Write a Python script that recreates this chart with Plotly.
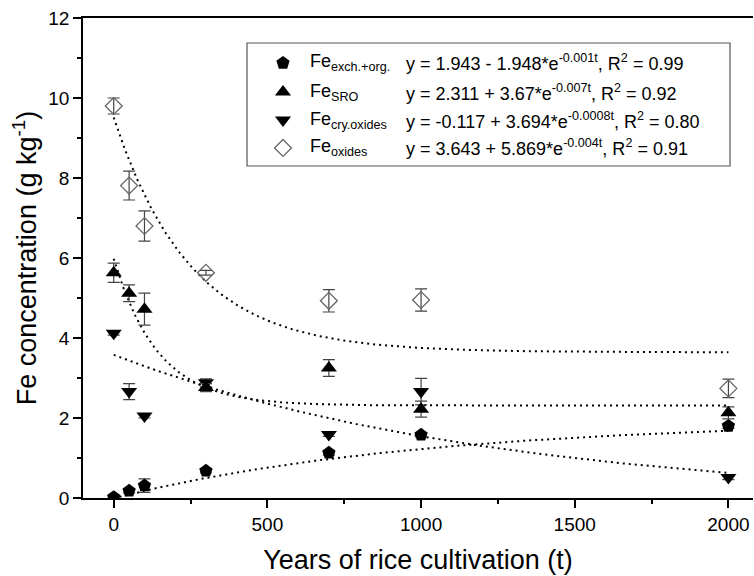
import plotly.graph_objects as go
import numpy as np

# ---- data ----
years = [0, 50, 100, 300, 700, 1000, 2000]

fe_exch = [0.02, 0.18, 0.31, 0.68, 1.13, 1.58, 1.80]
fe_exch_err = [0.03, 0.05, 0.17, 0.05, 0.06, 0.05, 0.06]

fe_sro = [5.63, 5.12, 4.72, 2.76, 3.25, 2.22, 2.13]
fe_sro_err = [0.24, 0.21, 0.40, 0.10, 0.21, 0.20, 0.15]

fe_cry = [4.12, 2.66, 2.05, 2.88, 1.59, 2.66, 0.51]
fe_cry_err = [0.05, 0.20, 0.05, 0.10, 0.05, 0.33, 0.05]

fe_oxides = [9.80, 7.81, 6.80, 5.63, 4.93, 4.95, 2.74]
fe_oxides_err = [0.20, 0.36, 0.38, 0.06, 0.28, 0.28, 0.23]

# fitted model parameters y = a + b*exp(-k t), as printed in the legend
fit_exch = (1.943, -1.948, 0.001)
fit_sro = (2.311, 3.67, 0.007)
fit_cry = (-0.117, 3.694, 0.0008)
fit_oxides = (3.643, 5.869, 0.004)

series_labels = ["Fe<sub>exch.+org.</sub>", "Fe<sub>SRO</sub>",
                 "Fe<sub>cry.oxides</sub>", "Fe<sub>oxides</sub>"]
equations = [
    "y = 1.943 - 1.948*e<sup>-0.001t</sup>, R<sup>2</sup> = 0.99",
    "y = 2.311 + 3.67*e<sup>-0.007t</sup>, R<sup>2</sup> = 0.92",
    "y = -0.117 + 3.694*e<sup>-0.0008t</sup>, R<sup>2</sup> = 0.80",
    "y = 3.643 + 5.869*e<sup>-0.004t</sup>, R<sup>2</sup> = 0.91",
]

FONT = "Liberation Sans, Arial, sans-serif"
fig = go.Figure()

t_fit = np.linspace(0, 2000, 401)
for a, b, k in [fit_exch, fit_sro, fit_cry, fit_oxides]:
    fig.add_trace(go.Scatter(
        x=t_fit, y=a + b * np.exp(-k * t_fit), mode="lines",
        line=dict(color="black", width=2, dash="2px,4px"),
        showlegend=False, hoverinfo="skip"))

DIAMOND = dict(symbol="diamond-open", size=13, color="#666666",
               line=dict(width=1.3, color="#666666"))
styles = [
    (fe_exch, fe_exch_err, dict(symbol="pentagon", size=14, color="black")),
    (fe_cry, fe_cry_err, dict(symbol="triangle-down", size=14, color="black")),
    (fe_sro, fe_sro_err, dict(symbol="triangle-up", size=14, color="black")),
    (fe_oxides, fe_oxides_err, DIAMOND),
]
for vals, errs, mk in styles:
    fig.add_trace(go.Scatter(
        x=years, y=vals, mode="markers", marker=mk,
        error_y=dict(type="data", array=errs, visible=True, color="#444444",
                     thickness=1.2, width=6),
        showlegend=False))

# legend symbols on an overlay axis spanning the plot area
leg_x = 0.2985
leg_rows = [0.9063, 0.8458, 0.7875, 0.7292]
leg_markers = [
    dict(symbol="pentagon", size=14, color="black"),
    dict(symbol="triangle-up", size=14, color="black"),
    dict(symbol="triangle-down", size=14, color="black"),
    DIAMOND,
]
for yy, mk in zip(leg_rows, leg_markers):
    fig.add_trace(go.Scatter(x=[leg_x], y=[yy], mode="markers", marker=mk,
                             xaxis="x2", yaxis="y2", showlegend=False, hoverinfo="skip"))

annotations = []
for yy, lab, eq in zip(leg_rows, series_labels, equations):
    annotations.append(dict(x=0.3358, y=yy, xref="paper", yref="paper", text=lab,
                            showarrow=False, xanchor="left", yanchor="middle",
                            font=dict(family=FONT, size=18, color="black")))
    annotations.append(dict(x=0.4791, y=yy, xref="paper", yref="paper", text=eq,
                            showarrow=False, xanchor="left", yanchor="middle",
                            font=dict(family=FONT, size=18, color="black")))

fig.update_layout(
    width=754, height=576,
    margin=dict(l=83, r=1, t=18, b=78),
    paper_bgcolor="white", plot_bgcolor="white",
    font=dict(family=FONT, size=19, color="black"),
    xaxis=dict(range=[-100, 2080], tickvals=[0, 500, 1000, 1500, 2000],
               ticks="outside", ticklen=8, tickwidth=1.5, tickcolor="black",
               minor=dict(tickvals=[250, 750, 1250, 1750], ticks="outside",
                          ticklen=4, tickwidth=1.5, tickcolor="black"),
               showline=True, linewidth=1.5, linecolor="black", mirror=True,
               showgrid=False, zeroline=False,
               tickfont=dict(size=19),
               title=dict(text="Years of rice cultivation (t)", font=dict(size=27), standoff=17)),
    yaxis=dict(range=[0, 12], tickvals=[0, 2, 4, 6, 8, 10, 12],
               ticks="outside", ticklen=8, tickwidth=1.5, tickcolor="black",
               minor=dict(tickvals=[1, 3, 5, 7, 9, 11], ticks="outside",
                          ticklen=4, tickwidth=1.5, tickcolor="black"),
               showline=True, linewidth=1.5, linecolor="black",
               showgrid=False, zeroline=False,
               tickfont=dict(size=19),
               title=dict(text="Fe concentration (g kg<sup>-1</sup>)", font=dict(size=27), standoff=4)),
    xaxis2=dict(range=[0, 1], overlaying="x", visible=False, domain=[0, 1]),
    yaxis2=dict(range=[0, 1], overlaying="y", visible=False),
    shapes=[dict(type="rect", xref="paper", yref="paper",
                 x0=0.2448, x1=0.9657, y0=0.6917, y1=0.9479,
                 line=dict(color="#555555", width=1.2), fillcolor="rgba(0,0,0,0)")],
    annotations=annotations,
)

fig.write_html("out.html")
